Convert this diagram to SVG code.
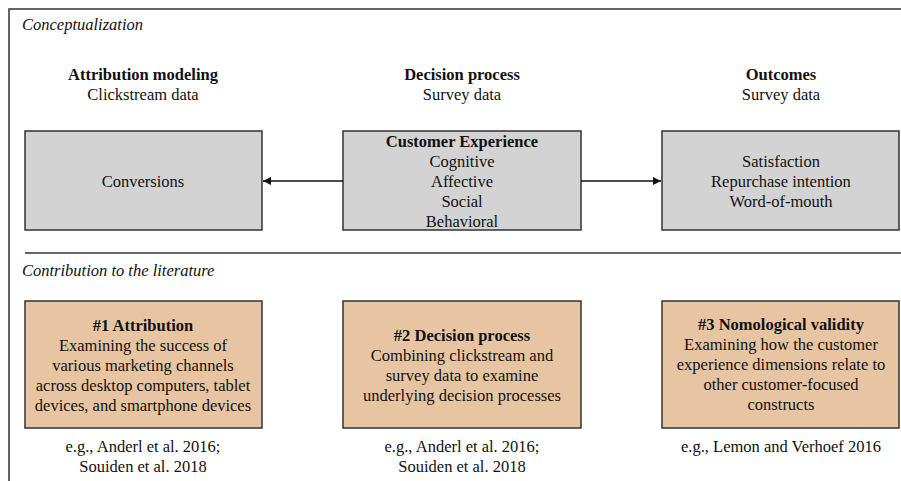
<svg xmlns="http://www.w3.org/2000/svg" width="901" height="481" viewBox="0 0 901 481">
<style>
text{font-family:"Liberation Serif","Times New Roman",serif;font-size:16.5px;fill:#111;text-anchor:middle}
.b{font-weight:bold}
.i{font-style:italic;text-anchor:start}
.gray{fill:#d3d3d3;stroke:#333;stroke-width:1.5}
.tan{fill:#e8c5a2;stroke:#333;stroke-width:1.5}
.frame{stroke:#333;stroke-width:1.5;fill:none}
.conn{stroke:#111;stroke-width:1.3;fill:none}
</style>
<defs>
<marker id="ah" viewBox="0 0 10 10" refX="10" refY="5" markerWidth="8" markerHeight="8" markerUnits="userSpaceOnUse" orient="auto">
<path d="M0,0 L10,5 L0,10 z" fill="#111"/>
</marker>
</defs>
<rect width="901" height="481" fill="#fff"/>
<g id="frame">
<path class="frame" d="M9,481 V9 H901"/>
<line class="frame" x1="25" y1="253" x2="901" y2="253"/>
<text class="i" x="22" y="30">Conceptualization</text>
<text class="i" x="22" y="276">Contribution to the literature</text>
</g>
<g id="headers">
<text class="b" x="143" y="80">Attribution modeling</text>
<text x="143" y="100">Clickstream data</text>
<text class="b" x="462" y="80">Decision process</text>
<text x="462" y="100">Survey data</text>
<text class="b" x="781" y="80">Outcomes</text>
<text x="781" y="100">Survey data</text>
</g>
<g id="conversions">
<rect class="gray" x="25" y="131" width="237" height="99"/>
<text x="143" y="187">Conversions</text>
</g>
<g id="customer-experience">
<rect class="gray" x="343" y="131" width="238" height="99"/>
<text class="b" x="462" y="147">Customer Experience</text>
<text x="462" y="167">Cognitive</text>
<text x="462" y="187">Affective</text>
<text x="462" y="207">Social</text>
<text x="462" y="227">Behavioral</text>
</g>
<g id="outcomes">
<rect class="gray" x="662" y="131" width="237" height="99"/>
<text x="781" y="167">Satisfaction</text>
<text x="781" y="187">Repurchase intention</text>
<text x="781" y="207">Word-of-mouth</text>
</g>
<g id="connectors">
<line class="conn" x1="343" y1="181" x2="263" y2="181" marker-end="url(#ah)"/>
<line class="conn" x1="581" y1="181" x2="661" y2="181" marker-end="url(#ah)"/>
</g>
<g id="c1">
<rect class="tan" x="25" y="301" width="237" height="127"/>
<text class="b" x="143" y="331">#1 Attribution</text>
<text x="143" y="351">Examining the success of</text>
<text x="143" y="371">various marketing channels</text>
<text x="143" y="391">across desktop computers, tablet</text>
<text x="143" y="411">devices, and smartphone devices</text>
<text x="143" y="452">e.g., Anderl et al. 2016;</text>
<text x="143" y="472">Souiden et al. 2018</text>
</g>
<g id="c2">
<rect class="tan" x="343" y="301" width="238" height="127"/>
<text class="b" x="462" y="341">#2 Decision process</text>
<text x="462" y="361">Combining clickstream and</text>
<text x="462" y="381">survey data to examine</text>
<text x="462" y="401">underlying decision processes</text>
<text x="462" y="452">e.g., Anderl et al. 2016;</text>
<text x="462" y="472">Souiden et al. 2018</text>
</g>
<g id="c3">
<rect class="tan" x="662" y="301" width="237" height="127"/>
<text class="b" x="781" y="330">#3 Nomological validity</text>
<text x="781" y="350">Examining how the customer</text>
<text x="781" y="370">experience dimensions relate to</text>
<text x="781" y="390">other customer-focused</text>
<text x="781" y="410">constructs</text>
<text x="781" y="452">e.g., Lemon and Verhoef 2016</text>
</g>
</svg>
